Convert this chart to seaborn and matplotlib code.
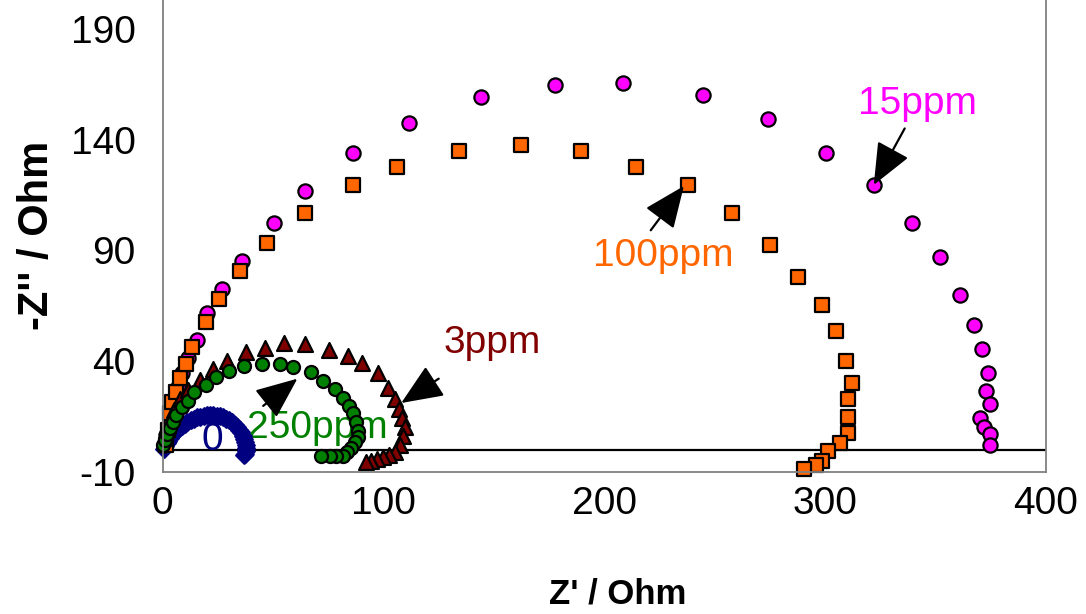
import matplotlib
matplotlib.use("Agg")
import matplotlib.pyplot as plt
import seaborn as sns
import pandas as pd

# Nyquist data (Z' , -Z'' in Ohm)
re_0 = [0.6, 1.2, 1.9, 2.6, 3.4, 4.3, 5.3, 6.3, 7.4, 8.6, 9.9, 11.2, 12.6, 14.0, 15.5,
        17.0, 18.5, 20.0, 21.5, 23.0, 24.5, 26.0, 27.4, 28.8, 30.1, 31.4, 32.6, 33.7,
        34.7, 35.6, 36.3, 36.9, 37.3, 37.6, 37.7, 37.6, 37.3, 36.8]
im_0 = [0.3, 1.5, 2.8, 4.0, 5.3, 6.5, 7.6, 8.7, 9.7, 10.7, 11.6, 12.4, 13.2, 13.9, 14.5,
        14.9, 15.3, 15.5, 15.6, 15.5, 15.3, 15.0, 14.5, 13.9, 13.2, 12.3, 11.3, 10.2,
        9.0, 7.7, 6.3, 4.9, 3.4, 1.9, 0.5, -0.8, -1.8, -2.5]

re_15 = [0.6, 1.5, 3.3, 5.1, 7.1, 8.9, 11.3, 15.4, 20.2, 26.7, 35.7, 50.2, 64.6, 86.3,
         111.6, 144.1, 177.6, 208.3, 244.5, 274.3, 300.5, 322.0, 339.4, 352.0, 361.0,
         367.5, 371.0, 373.5, 372.8, 374.6, 370.1, 372.0, 374.6, 374.6]
im_15 = [2.1, 6.6, 14.3, 21.5, 28.4, 34.4, 41.2, 49.5, 61.8, 72.6, 85.3, 102.4, 116.9,
         134.0, 147.6, 159.3, 164.7, 165.6, 160.2, 149.4, 134.0, 119.5, 102.4, 87.1,
         70.0, 56.4, 45.6, 34.7, 26.6, 20.5, 14.1, 10.3, 6.9, 2.2]

re_100 = [1.5, 2.4, 3.2, 4.1, 5.9, 7.7, 10.4, 13.1, 19.4, 25.7, 34.8, 47.4, 64.6, 86.3,
          106.2, 134.2, 162.2, 189.3, 214.4, 238.1, 258.0, 275.2, 287.8, 298.7, 305.0,
          309.5, 312.2, 310.4, 310.4, 310.4, 306.8, 301.4, 298.7, 296.0, 290.6]
im_100 = [2.1, 8.9, 16.4, 21.4, 26.1, 32.2, 38.6, 46.5, 57.4, 68.1, 80.8, 93.4, 107.0,
          119.6, 127.7, 134.9, 137.7, 134.9, 127.7, 119.6, 107.0, 92.5, 78.1, 65.4, 53.7,
          40.1, 30.2, 23.0, 14.9, 7.6, 3.1, -0.5, -5.0, -6.8, -8.6]

re_3 = [1.0, 2.4, 5.1, 7.8, 11.6, 16.9, 22.7, 28.9, 37.7, 46.2, 55.1, 64.6, 75.1, 84.0,
        90.1, 97.4, 101.9, 105.0, 107.0, 108.5, 109.5, 108.9, 107.4, 105.4, 102.7, 99.7,
        97.2, 94.4, 92.2]
im_3 = [5.2, 11.1, 17.9, 22.8, 27.0, 31.4, 36.2, 39.8, 44.1, 46.0, 47.9, 47.8, 45.0, 42.4,
        38.9, 34.4, 28.0, 22.6, 18.3, 14.3, 10.2, 6.0, 2.1, -0.9, -2.4, -3.5, -4.4, -5.0,
        -5.5]

re_250 = [0.3, 1.0, 2.1, 3.3, 4.5, 6.0, 8.6, 11.3, 14.2, 19.4, 24.3, 30.0, 36.7, 44.9,
          52.9, 59.0, 67.0, 72.6, 78.1, 81.5, 84.3, 86.1, 87.7, 88.4, 88.3, 87.1, 85.1,
          83.3, 81.5, 78.6, 75.6, 71.8]
im_250 = [2.1, 4.3, 7.0, 9.9, 12.6, 15.6, 19.1, 22.1, 25.8, 29.2, 32.9, 35.6, 37.5, 38.8,
          38.7, 37.4, 34.8, 31.1, 27.2, 23.2, 19.7, 16.4, 12.4, 8.4, 5.7, 3.2, 0.6, -1.3,
          -2.7, -3.1, -3.1, -3.1]

x_ticks = [0, 100, 200, 300, 400]
y_ticks = [-10, 40, 90, 140, 190]

sns.set_style("white")
plt.rcParams["font.family"] = ["Liberation Sans", "DejaVu Sans"]
plt.rcParams["axes.unicode_minus"] = False

fig = plt.figure(figsize=(10.86, 6.14), dpi=100)
ax = fig.add_axes([0.1498, 0.2318, 0.8134, 0.7682])

ax.axhline(0, color="black", lw=1.6, zorder=1.5)

series = [
    (re_0, im_0, "D", "#000080", "#000080", 72),
    (re_15, im_15, "o", "#FF00FF", "black", 105),
    (re_100, im_100, "s", "#FF6600", "black", 92),
    (re_3, im_3, "^", "#800000", "black", 115),
    (re_250, im_250, "o", "#008000", "black", 88),
]
for i, (xs, ys, mk, fc, ec, sz) in enumerate(series):
    df = pd.DataFrame({"re": xs, "im": ys})
    sns.scatterplot(data=df, x="re", y="im", marker=mk, color=fc, edgecolor=ec,
                    linewidth=1.6, s=sz, ax=ax, zorder=2 + i * 0.1, clip_on=False)

txt = dict(fontsize=28, ha="center", va="center", zorder=1.8)
ax.text(342, 156, "15ppm", color="#FF00FF", **txt)
ax.text(226.5, 87.5, "100ppm", color="#FF6600", **txt)
ax.text(149.3, 48, "3ppm", color="#800000", **txt)
ax.text(70.2, 9.5, "250ppm", color="#008000", **txt)
ax.text(22.5, 4.3, "0", color="#000080", **txt)

arrow = dict(arrowstyle="-|>,head_length=1.3,head_width=0.55", color="black", lw=1.6,
             shrinkA=0, shrinkB=0, mutation_scale=20)
ax.annotate("", xy=(322, 119.5), xytext=(336, 145), arrowprops=arrow)
ax.annotate("", xy=(236, 119), xytext=(221, 99), arrowprops=arrow)
ax.annotate("", xy=(108, 21), xytext=(125, 32), arrowprops=arrow)
ax.annotate("", xy=(61, 32), xytext=(45.5, 19.7), arrowprops=arrow)

ax.set_xlim(0, 400)
ax.set_ylim(-10, 203)
ax.set_xticks(x_ticks)
ax.set_yticks(y_ticks)
ax.tick_params(axis="both", direction="out", length=8.5, width=1, color="#808080",
               labelsize=28, labelcolor="black")
ax.tick_params(axis="y", pad=11)
ax.tick_params(axis="x", pad=2)
for side in ["left", "right", "bottom"]:
    ax.spines[side].set_color("#808080")
    ax.spines[side].set_linewidth(1.3)
ax.spines["top"].set_visible(False)

ax.set_xlabel("Z' / Ohm", fontsize=25, fontweight="bold", color="black", labelpad=40,
              x=0.515)
ax.set_ylabel("-Z'' / Ohm", fontsize=30, fontweight="bold", color="black", labelpad=10)

fig.savefig("out.png", dpi=100)
